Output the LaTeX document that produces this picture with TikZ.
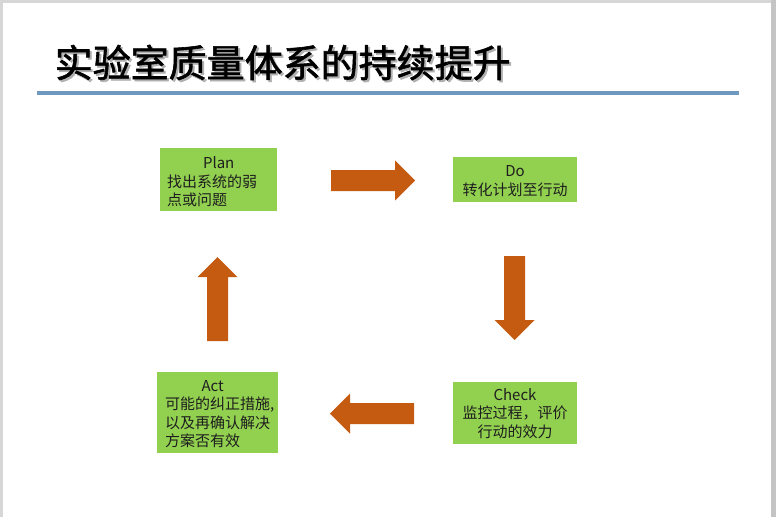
\documentclass[tikz,border=0pt]{standalone}
\usepackage{fontspec}
\newfontfamily\cjk{Noto Sans CJK SC}
\newfontfamily\cjktitle{Noto Sans CJK SC}[FakeBold=1.6]
\definecolor{framegray}{HTML}{D6D6D6}
\definecolor{edgegray}{HTML}{C4C4C4}
\definecolor{rulecol}{HTML}{6E98BD}
\definecolor{boxgreen}{HTML}{92D050}
\definecolor{arrowcol}{HTML}{C55A11}
\definecolor{textdark}{HTML}{1E1E1E}
\definecolor{shadowgray}{HTML}{B0B0B0}
\tikzset{
  greenbox/.style={rectangle, fill=boxgreen, inner sep=0pt},
  boxtext/.style={inner sep=0pt, text=textdark, font=\cjk\fontsize{15}{18.5}\selectfont},
  bigarrow/.pic={\fill[arrowcol] (0,-10.5) -- (64,-10.5) -- (64,-20) -- (84,0) -- (64,20) -- (64,10.5) -- (0,10.5) -- cycle;}
}
\newcommand\titletext{实验室质量体系的持续提升}
\begin{document}
\begin{tikzpicture}[x=1pt,y=-1pt]
\useasboundingbox (0,0) rectangle (776,517);
% slide frame
\fill[framegray] (0,0) rectangle (776,517);
\fill[edgegray] (771,0) rectangle (776,517);
\fill[white] (3,2.5) rectangle (771,517);
% title with shadow
\node[anchor=west, inner sep=0pt, text=black, font=\cjktitle\fontsize{38}{40}\selectfont] (title) at (54.5,63.5)
  {\rlap{\hspace{2pt}\raisebox{-2pt}{\color{shadowgray}\titletext}}\titletext};
\fill[rulecol] (37,91) rectangle (739,95);
% boxes
\node[greenbox, minimum width=117pt, minimum height=63pt] (plan) at (218.5,179.5) {};
\node[greenbox, minimum width=124pt, minimum height=45pt] (do) at (515,179.5) {};
\node[greenbox, minimum width=124pt, minimum height=62pt] (check) at (515,413) {};
\node[greenbox, minimum width=121pt, minimum height=81pt] (act) at (217.5,412.5) {};
% texts
\node[boxtext, align=left, anchor=west] (plantext) at (167,182) {\makebox[103pt]{Plan}\\找出系统的弱\\点或问题};
\node[boxtext, align=center] (dotext) at (515,181) {Do\\转化计划至行动};
\node[boxtext, align=center] (checktext) at (515,413.5) {Check\\监控过程，评价\\行动的效力};
\node[boxtext, align=left, anchor=west] (acttext) at (165,414) {\makebox[95pt]{Act}\\可能的纠正措施,\\以及再确认解决\\方案否有效};
% arrows
\pic at (331,180.5) {bigarrow};
\pic[rotate=-90] at (514.5,256) {bigarrow};
\pic[rotate=180] at (414,413.5) {bigarrow};
\pic[rotate=90] at (217.5,341) {bigarrow};
\end{tikzpicture}
\end{document}
